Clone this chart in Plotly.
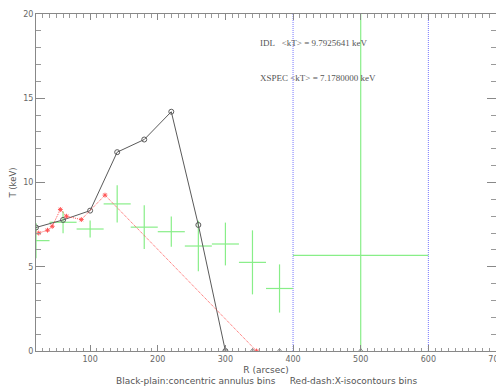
import plotly.graph_objects as go

# Black-plain: concentric annulus bins (IDL)
black_r = [20, 60, 100, 140, 180, 220, 260, 300]
black_t = [7.33, 7.78, 8.33, 11.8, 12.55, 14.2, 7.48, 0.0]

# Red-dash: X-isocontours bins
red_r = [24, 37, 44, 56, 65, 87, 122, 346]
red_t = [7.0, 7.17, 7.4, 8.4, 8.0, 7.8, 9.25, 0.0]

# XSPEC green crosses
xs_r = [20, 60, 100, 140, 180, 220, 260, 300, 340, 380, 500]
xs_t = [6.55, 7.64, 7.24, 8.73, 7.35, 7.08, 6.23, 6.35, 5.26, 3.71, 5.68]
xs_rerr = [20, 20, 20, 20, 20, 20, 20, 20, 20, 20, 100]
xs_terr = [1.05, 0.65, 0.5, 1.1, 1.3, 0.9, 1.5, 1.27, 1.9, 1.43, 25]

# zero-level markers
zero_r = [300, 340, 380, 500]
zero_t = [0, 0, 0, 0]

# blue bin-edge lines
blue_r = [400, 600]

idl_mean = "9.7925641"
xspec_mean = "7.1780000"

GRAY = "#666666"

fig = go.Figure()

bx, by = [], []
for r in blue_r:
    bx += [r, r, None]
    by += [0, 20, None]
fig.add_trace(go.Scatter(x=bx, y=by, mode="lines",
                         line=dict(color="#7777ff", width=1, dash="1px,1px"),
                         hoverinfo="skip"))

fig.add_trace(go.Scatter(
    x=xs_r, y=xs_t, mode="markers",
    marker=dict(size=0.1, color="rgba(0,0,0,0)"),
    error_x=dict(type="data", array=xs_rerr, color="#88ee88", thickness=1.2, width=0),
    error_y=dict(type="data", array=xs_terr, color="#88ee88", thickness=1.2, width=0),
))

fig.add_trace(go.Scatter(
    x=black_r, y=black_t, mode="lines+markers",
    line=dict(color="#5a5a5a", width=1),
    marker=dict(symbol="circle-open", size=5, color="#5a5a5a", line=dict(width=1)),
))

fig.add_trace(go.Scatter(
    x=red_r, y=red_t, mode="lines+markers",
    line=dict(color="#ff5555", width=1, dash="1px,1px"),
    marker=dict(symbol="asterisk-open", size=4, color="#ff5555", line=dict(width=1, color="#ff5555")),
))

fig.add_trace(go.Scatter(
    x=zero_r, y=zero_t, mode="markers",
    marker=dict(symbol="triangle-up-open", size=5, color="#888888", line=dict(width=1)),
))

fig.add_annotation(x=348, y=18.25, xref="x", yref="y", xanchor="left", yanchor="middle",
                   text=f"IDL&nbsp;&nbsp;&nbsp;&lt;kT&gt; = {idl_mean} keV", showarrow=False,
                   font=dict(family="Liberation Serif", size=9, color="#555555"))
fig.add_annotation(x=348, y=16.2, xref="x", yref="y", xanchor="left", yanchor="middle",
                   text=f"XSPEC &lt;kT&gt; = {xspec_mean} keV", showarrow=False,
                   font=dict(family="Liberation Serif", size=9, color="#555555"))
fig.add_annotation(x=0.5, y=0, xref="paper", yref="paper", yshift=-30, yanchor="middle",
                   text="Black-plain:concentric annulus bins&nbsp;&nbsp;&nbsp;&nbsp;&nbsp;Red-dash:X-isocontours bins",
                   showarrow=False, font=dict(family="DejaVu Sans", size=9, color="#555555"))

# page body has an 8px default margin, so the figure is sized to fit inside it
fig.update_layout(
    width=496, height=378,
    margin=dict(l=28, r=8, t=6, b=35),
    paper_bgcolor="white", plot_bgcolor="white",
    showlegend=False,
    font=dict(family="DejaVu Sans", size=8, color=GRAY),
)

fig.update_xaxes(range=[20, 700], showgrid=False, zeroline=False, automargin=False,
                 showline=True, linecolor="#888888", linewidth=1, mirror="ticks",
                 ticks="inside", ticklen=6, tickcolor="#888888",
                 tickvals=[100, 200, 300, 400, 500, 600, 700],
                 minor=dict(dtick=10, ticks="inside", ticklen=3.5, tickcolor="#999999"),
                 title=dict(text="R (arcsec)", standoff=4, font=dict(size=9, color="#555555")),
                 tickfont=dict(size=8, color=GRAY))
fig.update_yaxes(range=[0, 20], showgrid=False, zeroline=False, automargin=False,
                 showline=True, linecolor="#888888", linewidth=1, mirror="ticks",
                 ticks="inside", ticklen=9, tickcolor="#888888",
                 tickvals=[0, 5, 10, 15, 20],
                 minor=dict(dtick=1, ticks="inside", ticklen=5, tickcolor="#999999"),
                 title=dict(text="T (keV)", standoff=6, font=dict(size=8.5, color="#555555")),
                 tickfont=dict(size=8, color=GRAY))

fig.write_html("out.html")
